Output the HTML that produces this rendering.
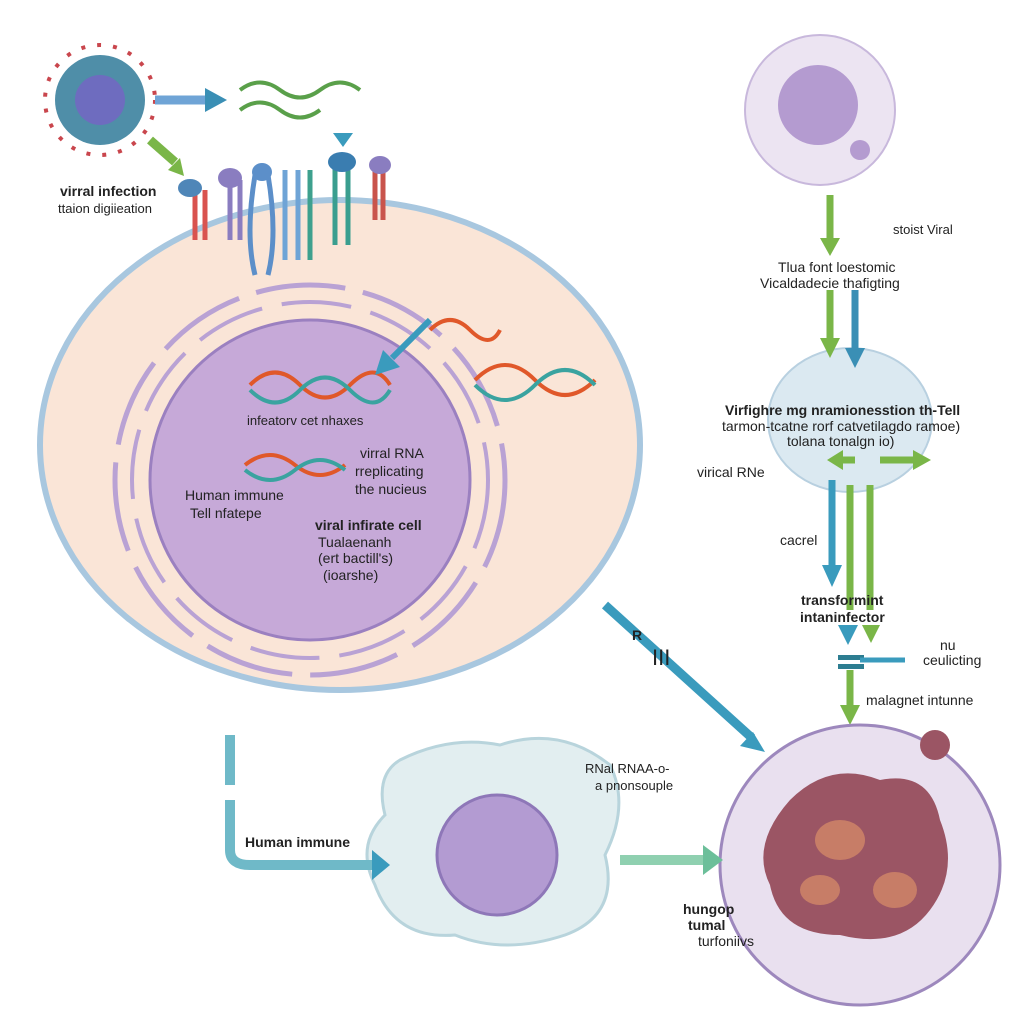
<!DOCTYPE html>
<html><head><style>
body{margin:0;background:#fff;}
svg{display:block;font-family:"Liberation Sans",sans-serif;}
</style></head><body>
<svg width="1024" height="1024" viewBox="0 0 1024 1024">
<rect width="1024" height="1024" fill="#fff"/>
<!-- big cell -->
<ellipse cx="340" cy="445" rx="300" ry="245" fill="#fae5d7" stroke="#a8c7df" stroke-width="6"/>
<circle cx="310" cy="480" r="195" fill="none" stroke="#b9a2d4" stroke-width="5" stroke-dasharray="90 18"/>
<circle cx="310" cy="480" r="178" fill="none" stroke="#b9a2d4" stroke-width="4" stroke-dasharray="70 20"/>
<circle cx="310" cy="480" r="160" fill="#c6a9d8" stroke="#9b80c0" stroke-width="3"/>
<!-- receptors -->
<g stroke-width="5" fill="none">
<path d="M195,190 v50 M205,190 v50" stroke="#d9534f"/>
<path d="M230,180 v60 M240,180 v60" stroke="#8a7dc0"/>
<path d="M255,175 q-10,60 0,100 M268,175 q10,60 0,100" stroke="#5c8fc9"/>
<path d="M285,170 v90 M298,170 v90" stroke="#6fa4d6"/>
<path d="M310,170 v90" stroke="#3ea08e"/>
<path d="M335,165 v80 M348,165 v80" stroke="#3a9e8f"/>
<path d="M375,170 v50 M383,170 v50" stroke="#c9544c"/>
</g>
<g fill="#8a7dc0"><ellipse cx="190" cy="188" rx="12" ry="9" fill="#4f86b8"/><ellipse cx="230" cy="178" rx="12" ry="10"/><ellipse cx="262" cy="172" rx="10" ry="9" fill="#5c8fc9"/><ellipse cx="342" cy="162" rx="14" ry="10" fill="#3a7db0"/><ellipse cx="380" cy="165" rx="11" ry="9"/></g>
<path d="M333,133 h20 l-10,14z" fill="#3a9bbd"/>
<!-- virus -->
<circle cx="100" cy="100" r="45" fill="#4f8ea8"/><circle cx="100" cy="100" r="25" fill="#6e6cbf"/>
<circle cx="100" cy="100" r="55" fill="none" stroke="#c9464d" stroke-width="4" stroke-dasharray="4 12"/>
<path d="M155,100 h52" stroke="#6fa4d6" stroke-width="9"/><path d="M205,88 l22,12 l-22,12z" fill="#3a8fb5"/>
<path d="M150,140 l25,22" stroke="#7ab648" stroke-width="9"/><path d="M168,170 l16,6 l-4,-18z" fill="#7ab648"/>
<path d="M240,90 q20,-15 40,0 t40,0 t40,0" stroke="#5aa04a" stroke-width="4" fill="none"/>
<path d="M240,110 q20,-15 40,0 t40,0" stroke="#5aa04a" stroke-width="4" fill="none"/>
<!-- DNA strands -->
<path d="M250,385 q25,-25 50,0 t50,0 t40,0" stroke="#e0582a" stroke-width="4" fill="none"/>
<path d="M250,390 q25,25 50,0 t50,0 t40,0" stroke="#3aa3a0" stroke-width="4" fill="none"/>
<path d="M475,380 q30,-30 60,0 t60,0" stroke="#e0582a" stroke-width="4" fill="none"/>
<path d="M475,385 q30,30 60,0 t60,0" stroke="#3aa3a0" stroke-width="4" fill="none"/>
<path d="M245,465 q25,-20 50,0 t50,0" stroke="#e0582a" stroke-width="4" fill="none"/>
<path d="M245,470 q25,20 50,0 t50,0" stroke="#3aa3a0" stroke-width="4" fill="none"/>
<path d="M430,330 q20,-20 40,0 t30,0" stroke="#e0582a" stroke-width="4" fill="none"/>
<path d="M430,320 L392,358" stroke="#3a9bbd" stroke-width="6"/><path d="M375,375 l8,-25 l17,17z" fill="#3a9bbd"/>
<!-- top right cell -->
<circle cx="820" cy="110" r="75" fill="#ece4f2" stroke="#c8b8dc" stroke-width="2"/>
<circle cx="818" cy="105" r="40" fill="#b49bd0"/><circle cx="860" cy="150" r="10" fill="#b49bd0"/>
<!-- mid sphere -->
<ellipse cx="850" cy="420" rx="82" ry="72" fill="#dbe9f1" stroke="#b8d0e0" stroke-width="2"/>
<!-- right arrows -->
<g stroke-width="7" fill="none">
<path d="M830,195 v45" stroke="#7ab648"/><path d="M830,290 v50" stroke="#7ab648"/>
<path d="M855,290 v60" stroke="#3a8fb5"/>
<path d="M832,480 v85" stroke="#3a9bbd"/>
<path d="M850,485 v125 M870,485 v125" stroke="#7ab648"/>
<path d="M850,670 v35" stroke="#7ab648"/>
<path d="M880,460 h35" stroke="#7ab648"/><path d="M840,460 h15" stroke="#7ab648"/>
</g>
<g>
<path d="M820,238 h20 l-10,18z" fill="#7ab648"/><path d="M820,338 h20 l-10,20z" fill="#7ab648"/>
<path d="M845,348 h20 l-10,20z" fill="#3a8fb5"/><path d="M822,565 h20 l-10,22z" fill="#3a9bbd"/>
<path d="M838,625 h20 l-10,20z" fill="#3a9bbd"/><path d="M862,625 h18 l-9,18z" fill="#7ab648"/>
<path d="M840,705 h20 l-10,20z" fill="#7ab648"/>
<path d="M913,450 l18,10 l-18,10z" fill="#7ab648"/><path d="M843,450 l-16,10 l16,10z" fill="#7ab648"/>
<rect x="838" y="655" width="26" height="5" fill="#2d7d91"/><rect x="838" y="664" width="26" height="5" fill="#2d7d91"/>
<path d="M860,660 h45" stroke="#3a9bbd" stroke-width="5"/>
</g>
<!-- blue diagonal -->
<path d="M605,605 L752,738" stroke="#3a9bbd" stroke-width="9"/><path d="M765,752 l-25,-6 l13,-14z" fill="#3a9bbd"/>
<!-- bottom cells -->
<path d="M400,760 q50,-25 100,-15 q60,-20 110,20 q20,40 -5,90 q15,60 -40,80 q-60,20 -110,0 q-60,5 -80,-50 q-20,-40 10,-70 q-10,-40 15,-55z" fill="#e2eef0" stroke="#b8d4dc" stroke-width="3"/>
<circle cx="497" cy="855" r="60" fill="#b39bd2" stroke="#8e77b8" stroke-width="3"/>
<circle cx="860" cy="865" r="140" fill="#e9e0ef" stroke="#9d88bd" stroke-width="3"/>
<path d="M790,800 q40,-40 90,-20 q50,-10 60,40 q20,50 -10,90 q-30,40 -90,25 q-60,0 -70,-50 q-20,-40 20,-85z" fill="#9b5564"/>
<ellipse cx="840" cy="840" rx="25" ry="20" fill="#c77d67"/><ellipse cx="895" cy="890" rx="22" ry="18" fill="#c77d67"/><ellipse cx="820" cy="890" rx="20" ry="15" fill="#c77d67"/>
<circle cx="935" cy="745" r="15" fill="#9b5564"/>
<!-- bottom arrows -->
<path d="M230,735 v50 M230,800 v50 q0,15 20,15 h125" stroke="#6fb9c8" stroke-width="10" fill="none"/>
<path d="M372,850 l18,15 l-18,15z" fill="#3a9bbd"/>
<path d="M620,860 h85" stroke="#8fd0b0" stroke-width="10"/><path d="M703,845 l20,15 l-20,15z" fill="#6cbf9a"/>
<!-- text -->
<g font-size="14" fill="#222">
<text x="60" y="196" font-weight="bold">virral infection</text>
<text x="58" y="213" font-size="13">ttaion digiieation</text>
<text x="247" y="425" font-size="13">infeatorv cet nhaxes</text>
<text x="360" y="458">virral RNA</text><text x="355" y="476">rreplicating</text><text x="355" y="494">the nucieus</text>
<text x="185" y="500">Human immune</text><text x="190" y="518">Tell nfatepe</text>
<text x="315" y="530" font-weight="bold">viral infirate cell</text>
<text x="318" y="547">Tualaenanh</text><text x="318" y="563">(ert bactill's)</text><text x="323" y="580">(ioarshe)</text>
<text x="893" y="234" font-size="13">stoist Viral</text>
<text x="778" y="272">Tlua font loestomic</text><text x="760" y="288">Vicaldadecie thafigting</text>
<text x="725" y="415" font-weight="bold">Virfighre mg nramionesstion th-Tell</text>
<text x="722" y="431">tarmon-tcatne rorf catvetilagdo ramoe)</text>
<text x="787" y="446">tolana tonalgn io)</text>
<text x="697" y="477">virical RNe</text>
<text x="780" y="545">cacrel</text>
<text x="801" y="605" font-weight="bold">transformint</text><text x="800" y="622" font-weight="bold">intaninfector</text>
<text x="940" y="650">nu</text><text x="923" y="665">ceulicting</text>
<text x="866" y="705">malagnet intunne</text>
<text x="585" y="773" font-size="13">RNal RNAA-o-</text><text x="595" y="790" font-size="13">a pnonsouple</text>
<text x="245" y="847" font-weight="bold">Human immune</text>
<text x="683" y="914" font-weight="bold">hungop</text><text x="688" y="930" font-weight="bold">tumal</text><text x="698" y="946">turfoniivs</text>
<text x="632" y="640" font-weight="bold">R</text><text x="652" y="665" font-size="22">III</text>
</g>
</svg>
</body></html>
